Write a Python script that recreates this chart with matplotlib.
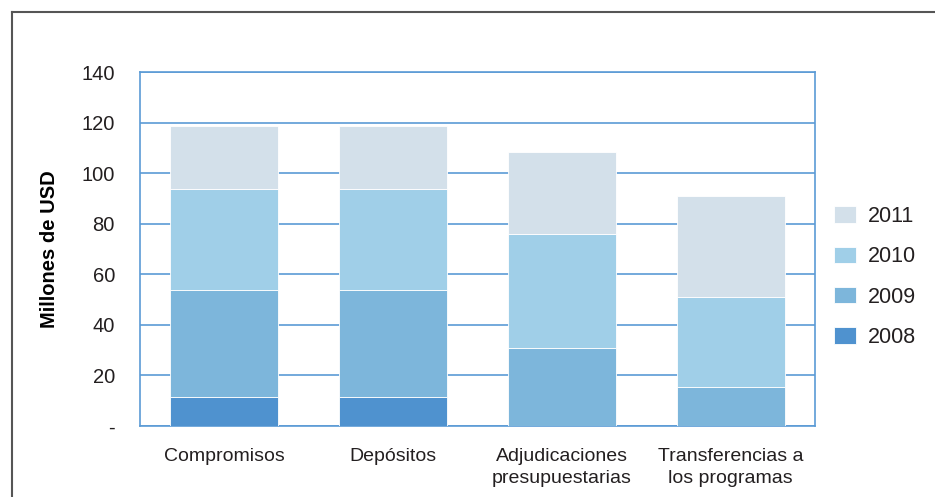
import matplotlib.pyplot as plt
from matplotlib.lines import Line2D
import numpy as np

plt.rcParams['font.family'] = ['Liberation Sans', 'DejaVu Sans']

# Data (millones de USD)
categorias = ['Compromisos', 'Depósitos', 'Adjudicaciones\npresupuestarias',
              'Transferencias a\nlos programas']
anios = ['2008', '2009', '2010', '2011']
v2008 = [11.5, 11.5, 0, 0]
v2009 = [42.3, 42.3, 30.8, 15.4]
v2010 = [39.9, 39.9, 45.1, 35.6]
v2011 = [24.8, 24.8, 32.4, 39.9]
colores = ['#4f92cf', '#7db6db', '#a0cfe8', '#d3e0ea']

fig = plt.figure(figsize=(9.35, 4.97), dpi=100)
ax = fig.add_axes([0.1497, 0.1429, 0.7220, 0.7122])

x = np.arange(len(categorias))
base = np.zeros(len(categorias))
handles = []
for serie, color, anio in zip([v2008, v2009, v2010, v2011], colores, anios):
    b = ax.bar(x, serie, width=0.64, bottom=base, color=color,
               edgecolor='white', linewidth=0.6, label=anio, zorder=3)
    handles.append(b)
    base = base + np.array(serie)

ax.set_ylim(0, 140)
ax.set_xlim(-0.5, len(categorias) - 0.5)
ax.set_yticks(range(0, 141, 20))
ax.set_yticklabels(['-'] + [str(v) for v in range(20, 141, 20)], fontsize=14.5,
                   color='#231f20')
ax.set_xticks(x)
ax.set_xticklabels(categorias, fontsize=14, color='#231f20', linespacing=1.35)
ax.tick_params(axis='y', length=0, pad=18)
ax.tick_params(axis='x', length=0, pad=16)
ax.grid(axis='y', color='#5b9bd5', linewidth=1.2, zorder=0)
for s in ax.spines.values():
    s.set_color('#5b9bd5')
    s.set_linewidth(1.2)

ax.set_ylabel('Millones de USD', fontsize=14.5, fontweight='bold', labelpad=16)

leg = fig.legend(handles[::-1], anios[::-1], loc='upper left',
                 bbox_to_anchor=(0.8828, 0.603), frameon=False, fontsize=15.5,
                 handlelength=1.0, handleheight=0.8, labelspacing=0.9,
                 handletextpad=0.55, borderaxespad=0)
for t in leg.get_texts():
    t.set_color('#231f20')

# outer frame (top and left edges)
fig.add_artist(Line2D([12 / 935, 1.0], [1 - 12 / 497, 1 - 12 / 497],
                      transform=fig.transFigure, color='#555555', linewidth=1.5))
fig.add_artist(Line2D([12 / 935, 12 / 935], [0.0, 1 - 12 / 497],
                      transform=fig.transFigure, color='#555555', linewidth=1.5))

fig.savefig('out.png', dpi=100)
